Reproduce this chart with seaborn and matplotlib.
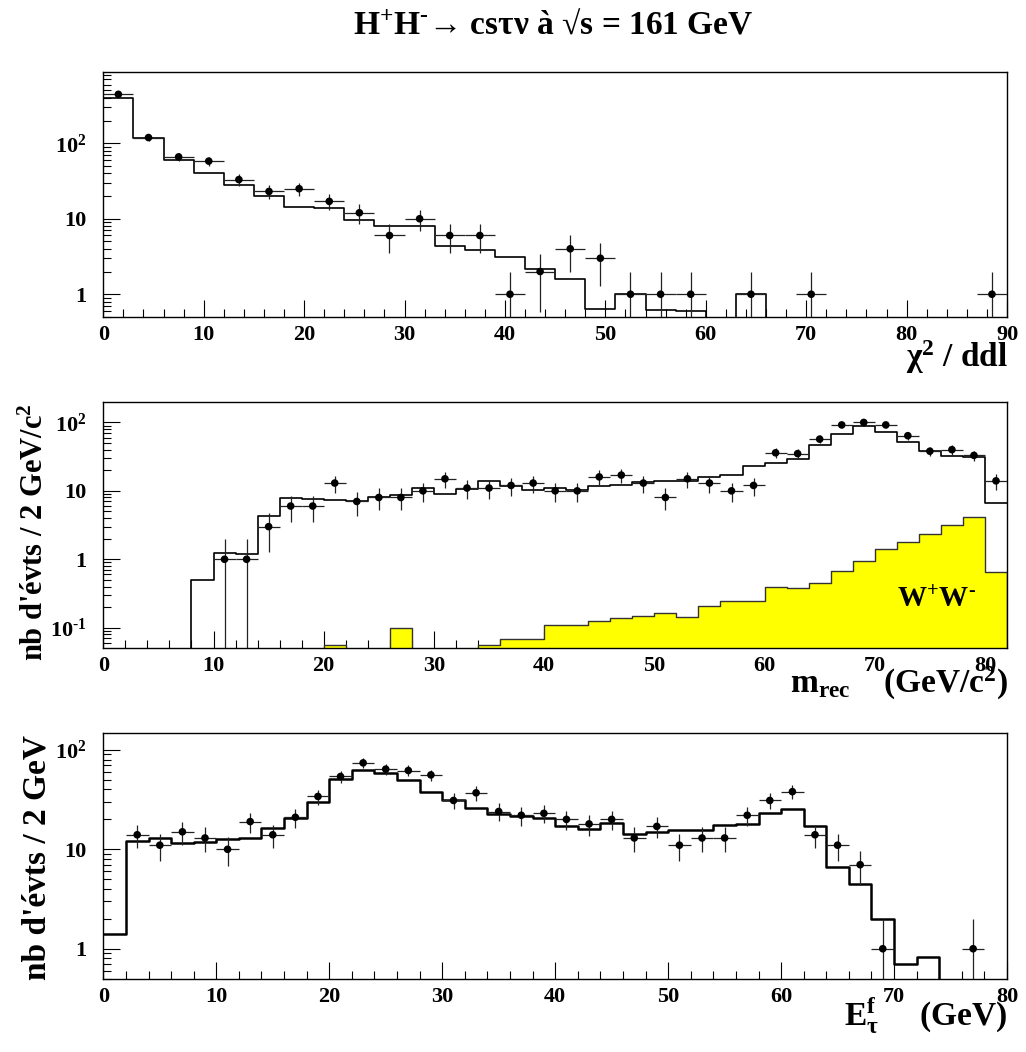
#!/usr/bin/env python3

"""
H+H- -> cs tau nu at sqrt(s) = 161 GeV : three log-scale distributions (data vs MC).
"""

import matplotlib

matplotlib.use("Agg")
import matplotlib.pyplot as plt
import numpy as np
import pandas as pd
import seaborn as sns
from matplotlib.ticker import FixedFormatter, FixedLocator, LogLocator, MultipleLocator, NullFormatter

# --- chi2 / ddl panel (bins of 3) ---
chi2_edges = np.arange(0, 91, 3)
chi2_mc = [402, 119, 60.7, 40.8, 28, 19.9, 14.5, 14, 9.6, 7.9, 8.0, 4.4, 3.9, 3.1, 2.15,
           1.6, 0.63, 1.0, 0.61, 0.6, 0, 1.0, 0, 0, 0, 0, 0, 0, 0, 0]
chi2_data = [445, 119, 66, 58, 33, 23, 25, 17, 12, 6, 10, 6, 6, 1, 2,
             4, 3, 1, 1, 1, 0, 1, 0, 1, 0, 0, 0, 0, 0, 1]

# --- m_rec panel (bins of 2) ---
mrec_edges = np.arange(0, 83, 2)
mrec_mc = [0, 0, 0, 0, 0.49, 1.22, 1.18, 4.3, 7.8, 7.5, 7.4, 7.2, 8.0, 8.8, 11.1, 9.0, 10.7,
           14, 11.8, 10.3, 10.9, 10.3, 11.8, 12, 13.6, 13.8, 14, 16, 16.9, 23, 25.3, 29.6,
           47, 67, 90, 72, 51, 38.7, 32.7, 31.3, 6.7]
mrec_ww = [0, 0, 0, 0, 0, 0, 0, 0, 0, 0, 0.055, 0, 0, 0.1, 0, 0, 0, 0.055, 0.069, 0.069,
           0.11, 0.11, 0.125, 0.14, 0.147, 0.162, 0.145, 0.21, 0.248, 0.248, 0.398, 0.385,
           0.446, 0.67, 0.935, 1.42, 1.77, 2.32, 3.14, 4.15, 0.646]
mrec_data = [0, 0, 0, 0, 0, 1, 1, 3, 6, 6, 13, 7, 8, 8, 10, 15, 11, 11, 12, 13, 10, 10,
             16, 17, 13, 8, 15, 13, 10, 12, 36, 35, 57, 92, 100, 92, 64, 38, 40, 33, 14]

# --- E_tau panel (bins of 2) ---
etau_edges = np.arange(0, 81, 2)
etau_mc = [1.42, 12, 12.9, 11.5, 11.9, 12.8, 13.1, 16.3, 20.6, 30, 50.7, 63, 59, 50, 37.8,
           31.2, 26.3, 22.7, 21.7, 20.6, 17, 16.1, 18.3, 14.2, 14.8, 15.5, 15.7, 17.5, 18,
           23.3, 25.7, 17.2, 6.7, 4.5, 2.0, 0.71, 0.82, 0, 0, 0]
etau_data = [0, 14, 11, 15, 13, 10, 19, 14, 21, 34, 54, 74, 64, 62, 56, 31, 37, 24, 22, 23,
             20, 18, 20, 13, 17, 11, 13, 13, 22, 31, 38, 14, 11, 7, 1, 0, 0, 0, 1, 0]


def draw_mc(ax, edges, values, lw, color="black", fill=False):
    centers = 0.5 * (edges[:-1] + edges[1:])
    df = pd.DataFrame({"x": centers, "w": np.asarray(values, dtype=float)})
    kws = dict(data=df, x="x", weights="w", bins=list(edges), element="step", ax=ax,
               linewidth=lw)
    if fill:
        sns.histplot(fill=True, color=color, alpha=1, edgecolor="#333333", **kws)
    else:
        sns.histplot(fill=False, color=color, **kws)
    ax.set_ylabel("")


def draw_data(ax, edges, counts):
    centers = 0.5 * (edges[:-1] + edges[1:])
    half = 0.5 * (edges[1] - edges[0])
    counts = np.asarray(counts, dtype=float)
    keep = counts > 0
    x = centers[keep]
    y = counts[keep]
    err = np.sqrt(y)
    lower = np.minimum(err, y - 1e-6)
    ax.errorbar(x, y, xerr=half, yerr=[lower, err], fmt="none", ecolor="#222222",
                elinewidth=0.9, capsize=0, zorder=3)
    sns.scatterplot(x=x, y=y, color="black", s=30, edgecolor="none", ax=ax, zorder=4)


def style_axis(ax, xmax, ylim, yticks, ylabels):
    ax.set_yscale("log")
    ax.set_xlim(0, xmax)
    ax.set_ylim(*ylim)
    ax.xaxis.set_major_locator(MultipleLocator(10))
    ax.xaxis.set_minor_locator(MultipleLocator(2))
    ax.yaxis.set_major_locator(FixedLocator(yticks))
    ax.yaxis.set_major_formatter(FixedFormatter(ylabels))
    ax.yaxis.set_minor_locator(LogLocator(base=10, subs=np.arange(2, 10)))
    ax.yaxis.set_minor_formatter(NullFormatter())
    ax.tick_params(which="both", direction="in", top=False, right=False, width=0.8,
                   labelsize=16, colors="black")
    ax.tick_params(which="major", length=12)
    ax.tick_params(which="minor", length=6)
    ax.tick_params(axis="x", pad=6)
    ax.tick_params(axis="y", pad=12)
    for lab in ax.get_xticklabels() + ax.get_yticklabels():
        lab.set_fontweight("bold")
    for sp in ax.spines.values():
        sp.set_linewidth(1.0)
        sp.set_color("black")
    ax.set_xlabel("")
    ax.grid(False)


def main():
    sns.set_theme(style="ticks")
    plt.rcParams["font.family"] = ["Liberation Serif", "DejaVu Serif"]
    plt.rcParams["font.weight"] = "bold"
    plt.rcParams["text.color"] = "black"
    plt.rcParams["axes.labelcolor"] = "black"
    plt.rcParams["mathtext.fontset"] = "custom"
    plt.rcParams["mathtext.rm"] = "Liberation Serif:bold"
    plt.rcParams["mathtext.bf"] = "Liberation Serif:bold"
    plt.rcParams["mathtext.it"] = "Liberation Serif:bold:italic"
    plt.rcParams["mathtext.default"] = "bf"

    fig = plt.figure(figsize=(10.26, 10.52), dpi=100)
    ax1 = fig.add_axes([0.1007, 0.6987, 0.8808, 0.2329])
    ax2 = fig.add_axes([0.1007, 0.3843, 0.8808, 0.2333])
    ax3 = fig.add_axes([0.1007, 0.0697, 0.8808, 0.2333])

    # chi2 / ddl
    ax1.set_yscale("log")
    draw_mc(ax1, chi2_edges, chi2_mc, lw=1.2)
    draw_data(ax1, chi2_edges, chi2_data)
    style_axis(ax1, 90, (0.5, 880), [1, 10, 100], ["1", "10", r"10$^{2}$"])

    # m_rec
    ax2.set_yscale("log")
    draw_mc(ax2, mrec_edges, mrec_ww, lw=1.0, color="#ffff00", fill=True)
    draw_mc(ax2, mrec_edges, mrec_mc, lw=1.2)
    draw_data(ax2, mrec_edges, mrec_data)
    style_axis(ax2, 82, (0.051, 197), [0.1, 1, 10, 100],
               [r"10$^{\text{-}1}$", "1", "10", r"10$^{2}$"])
    ax2.text(72, 0.2, r"W$^{+}$W$^{\text{-}}$", ha="left", va="baseline", fontsize=21,
             fontweight="bold")

    # E_tau
    ax3.set_yscale("log")
    draw_mc(ax3, etau_edges, etau_mc, lw=1.8)
    draw_data(ax3, etau_edges, etau_data)
    style_axis(ax3, 80, (0.5, 147), [1, 10, 100], ["1", "10", r"10$^{2}$"])

    # Titles and axis labels
    fig.text(0.539, 0.9686, r"H$^{+}$H$^{\text{-}}$→ csτν à √s = 161 GeV", ha="center",
             va="baseline", fontsize=24, fontweight="bold")
    fig.text(0.9825, 0.6511, r"χ$^{2}$ / ddl", ha="right", va="baseline", fontsize=24,
             fontweight="bold")
    fig.text(0.9825, 0.3413, r"m$_{rec}$    (GeV/c$^{2}$)", ha="right", va="baseline",
             fontsize=24, fontweight="bold")
    fig.text(0.9825, 0.0257, r"E$_{τ}^{f}$     (GeV)", ha="right", va="baseline",
             fontsize=24, fontweight="bold")
    fig.text(0.0419, 0.6169, r"nb d'évts / 2 GeV/c$^{2}$", rotation=90,
             rotation_mode="anchor", ha="right", va="baseline", fontsize=22,
             fontweight="bold")
    fig.text(0.0448, 0.3013, "nb d'évts / 2 GeV", rotation=90, rotation_mode="anchor",
             ha="right", va="baseline", fontsize=24, fontweight="bold")

    fig.savefig("out.png", dpi=100)


if __name__ == "__main__":
    main()
